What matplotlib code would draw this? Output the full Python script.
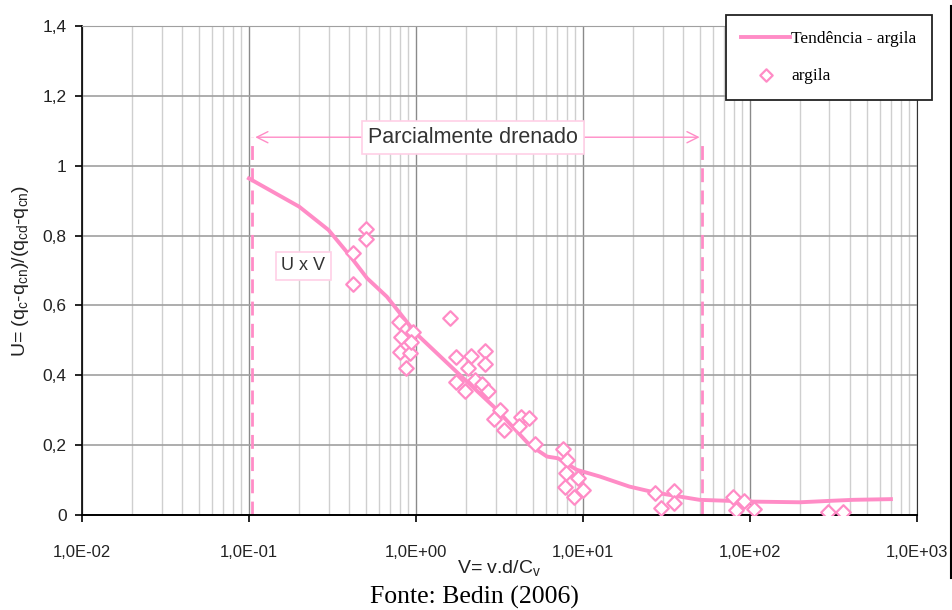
import matplotlib
matplotlib.use("Agg")
import matplotlib.pyplot as plt
from matplotlib.lines import Line2D
from matplotlib.ticker import FixedLocator, LogLocator, NullFormatter

PINK = "#ff8cc6"

# trend line
trend_v = [0.1, 0.2, 0.3, 0.4, 0.51, 0.67, 1.0, 1.75, 3.0, 4.8, 6.1, 7.1, 9.2,
           12.6, 19, 27, 50, 100, 200, 300, 416, 700]
trend_u = [0.964, 0.883, 0.816, 0.744, 0.678, 0.625, 0.52, 0.41, 0.305, 0.20,
           0.167, 0.162, 0.129, 0.11, 0.081, 0.064, 0.043, 0.038, 0.036, 0.040,
           0.043, 0.045]

# measured points ("argila")
argila_v = [0.42, 0.50, 0.50, 0.42,
            1.60, 0.79, 0.81, 0.96, 0.80, 0.92, 0.94, 0.87,
            1.73, 2.15, 2.59, 2.59, 2.04, 1.75, 1.98, 2.25, 2.50, 2.69,
            3.18, 2.93, 3.37, 4.24, 4.78, 4.14,
            5.2, 7.62, 8.06, 7.96, 9.37, 7.80, 9.96, 8.83,
            27.0, 35.1, 29.3, 35.1, 79.4, 92.1, 82.4, 106, 294, 362]
argila_u = [0.75, 0.82, 0.79, 0.66,
            0.564, 0.553, 0.509, 0.525, 0.468, 0.465, 0.496, 0.42,
            0.451, 0.455, 0.47, 0.431, 0.42, 0.382, 0.356, 0.386, 0.375, 0.356,
            0.301, 0.275, 0.243, 0.281, 0.278, 0.255,
            0.203, 0.188, 0.157, 0.121, 0.105, 0.081, 0.072, 0.051,
            0.062, 0.067, 0.019, 0.033, 0.051, 0.040, 0.014, 0.016, 0.007, 0.007]

# partially drained range
drained_lo, drained_hi = 0.105, 52.0
arrow_u = 1.082

y_ticks = [0, 0.2, 0.4, 0.6, 0.8, 1.0, 1.2, 1.4]
y_labels = ["0", "0,2", "0,4", "0,6", "0,8", "1", "1,2", "1,4"]
x_ticks = [1e-2, 1e-1, 1e0, 1e1, 1e2, 1e3]
x_labels = ["1,0E-02", "1,0E-01", "1,0E+00", "1,0E+01", "1,0E+02", "1,0E+03"]

plt.rcParams.update({
    "font.family": "Liberation Sans",
    "mathtext.default": "regular",
})

fig = plt.figure(figsize=(9.53, 6.10), dpi=100)
ax = fig.add_axes([0.086, 0.156, 0.876, 0.801])

ax.set_xscale("log")
ax.set_xlim(1e-2, 1e3)
ax.set_ylim(0, 1.4)

# grid: dark majors, light minors
ax.xaxis.set_major_locator(FixedLocator(x_ticks))
ax.xaxis.set_minor_locator(LogLocator(base=10, subs=range(2, 10), numticks=20))
ax.xaxis.set_minor_formatter(NullFormatter())
ax.set_xticks(x_ticks)
ax.set_xticklabels(x_labels, fontsize=12, color="#222222")
ax.set_yticks(y_ticks)
ax.set_yticklabels(y_labels, fontsize=12.5, color="#222222")
ax.grid(True, which="major", axis="x", color="#8a8a8a", linewidth=1.0)
ax.grid(True, which="minor", axis="x", color="#cfcfcf", linewidth=1.0)
ax.grid(True, which="major", axis="y", color="#a0a0a0", linewidth=1.2)
ax.tick_params(which="minor", length=0)
ax.tick_params(which="major", length=5, width=1.2, color="black")
ax.tick_params(axis="y", pad=6)
ax.tick_params(axis="x", pad=17)
ax.set_axisbelow(True)

ax.spines["top"].set_color("#a0a0a0")
ax.spines["right"].set_color("#333333")
ax.spines["left"].set_linewidth(1.2)
ax.spines["bottom"].set_linewidth(1.4)

ax.plot(trend_v, trend_u, color=PINK, linewidth=2.8, label="Tendência - argila",
        zorder=3)
ax.scatter(argila_v, argila_u, marker="D", s=55, facecolors="white",
           edgecolors=PINK, linewidths=1.6, label="argila", zorder=4)

# partially drained limits
ax.plot([drained_lo, drained_lo], [0, arrow_u], color=PINK, linestyle=(0, (5, 3)),
        linewidth=2, zorder=2)
ax.plot([drained_hi, drained_hi], [0, arrow_u - 0.01], color=PINK,
        linestyle=(0, (5, 3)), linewidth=2, zorder=2)
ax.annotate("", xy=(drained_lo, arrow_u), xytext=(drained_hi, arrow_u),
            arrowprops=dict(arrowstyle="<->", color=PINK, linewidth=1.0,
                            mutation_scale=20), zorder=5)
ax.text(2.2, arrow_u, "Parcialmente drenado", ha="center", va="center",
        fontsize=15.5, color="#333333", zorder=6,
        bbox=dict(boxstyle="square,pad=0.27", facecolor="white",
                  edgecolor="#ffd0e6", linewidth=1.2))
ax.text(0.212, 0.713, "U x V", ha="center", va="center", fontsize=13,
        color="#333333", zorder=6,
        bbox=dict(boxstyle="square,pad=0.3", facecolor="white",
                  edgecolor="#ffd0e6", linewidth=1.2))

ax.set_ylabel(r"U= (q$_{c}$-q$_{cn}$)/(q$_{cd}$-q$_{cn}$)", fontsize=14,
              labelpad=8, color="#222222")
ax.set_xlabel(r"V= v.d/C$_{v}$", fontsize=14, labelpad=-2, color="#222222")

leg = ax.legend(loc="upper right", bbox_to_anchor=(1.018, 1.0225),
                borderaxespad=0,
                prop={"family": "Liberation Serif", "size": 12.5},
                frameon=True, fancybox=False, framealpha=1, edgecolor="#222222",
                borderpad=0.9, labelspacing=1.2, handlelength=2.8,
                handletextpad=0.05, markerscale=0.85)
leg.get_frame().set_linewidth(1.3)
leg.set_zorder(10)

# chart border on the right, as in the source image
fig.add_artist(Line2D([0.998, 0.998], [0.052, 0.99], color="black",
                      linewidth=1.5, transform=fig.transFigure))

fig.text(0.498, 0.021, "Fonte: Bedin (2006)", ha="center", va="center",
         fontsize=18.5, family="Liberation Serif")

fig.savefig("out.png", dpi=100)
